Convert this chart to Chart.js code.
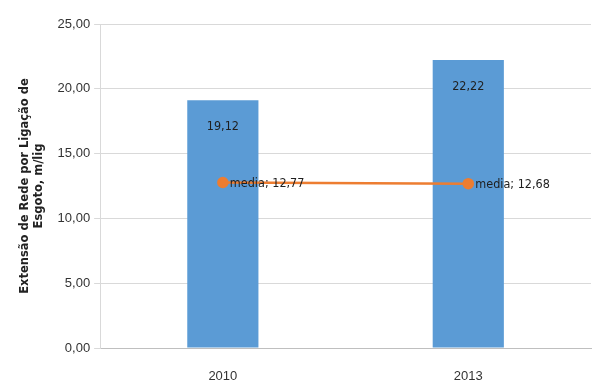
<!DOCTYPE html>
<html>
<head>
<meta charset="utf-8">
<script src="https://cdn.jsdelivr.net/npm/chart.js@4"></script>
<style>
  html, body { margin: 0; padding: 0; background: #fff; }
  #wrap { width: 605px; height: 385px; }
</style>
</head>
<body>
<div id="wrap"><canvas id="chart"></canvas></div>
<script>
const years = ["2010", "2013"];
const extensao = [19.12, 22.22];
const media = [12.77, 12.68];
const yTicks = [0, 5, 10, 15, 20, 25];

const fmt = v => v.toFixed(2).replace(".", ",");
const labelFont = "12.5px 'Liberation Sans Narrow', 'DejaVu Sans Condensed', sans-serif";

// value labels like the original spreadsheet chart
const valueLabels = {
  id: "valueLabels",
  afterDatasetsDraw(chart) {
    const ctx = chart.ctx;
    ctx.save();
    ctx.font = labelFont;
    ctx.fillStyle = "#1f1f1f";
    ctx.textBaseline = "middle";

    chart.data.datasets.forEach((ds, di) => {
      const meta = chart.getDatasetMeta(di);
      meta.data.forEach((el, i) => {
        if (ds.type === "bar") {
          ctx.textAlign = "center";
          ctx.fillText(fmt(extensao[i]), el.x, el.y + 27);
        } else {
          ctx.textAlign = "left";
          ctx.fillText("media; " + fmt(media[i]), el.x + 7, el.y + 1);
        }
      });
    });
    ctx.restore();
  }
};

new Chart(document.getElementById("chart"), {
  data: {
    labels: years,
    datasets: [
      {
        type: "line",
        label: "media",
        data: media,
        borderColor: "#ED7D31",
        backgroundColor: "#ED7D31",
        borderWidth: 2.5,
        pointStyle: "circle",
        pointRadius: 4.5,
        pointHoverRadius: 4.5,
        order: 0
      },
      {
        type: "bar",
        label: "Extensão",
        data: extensao,
        backgroundColor: "#5B9BD5",
        barPercentage: 0.58,
        categoryPercentage: 0.5,
        order: 1
      }
    ]
  },
  options: {
    responsive: true,
    maintainAspectRatio: false,
    animation: false,
    layout: { padding: { top: 24, right: 14, left: 18, bottom: 0 } },
    plugins: {
      legend: { display: false },
      tooltip: { enabled: false }
    },
    scales: {
      x: {
        grid: { display: false },
        border: { color: "#bfbfbf" },
        afterFit: axis => { axis.height = 37; },
        ticks: {
          color: "#333",
          font: { family: "'Liberation Sans Narrow', sans-serif", size: 13 },
          padding: 13
        }
      },
      y: {
        min: 0,
        max: 25,
        afterBuildTicks: axis => {
          axis.ticks = yTicks.map(v => ({ value: v }));
        },
        grid: { color: "#d9d9d9", tickLength: 6 },
        border: { color: "#d9d9d9" },
        ticks: {
          color: "#333",
          font: { family: "'Liberation Sans Narrow', sans-serif", size: 13 },
          padding: 4,
          callback: v => fmt(v)
        },
        title: {
          display: true,
          text: ["Extensão de Rede por Ligação de", "Esgoto, m/lig"],
          color: "#222",
          font: { family: "'DejaVu Sans', sans-serif", size: 11.5, weight: "bold" },
          padding: { top: 0, bottom: 8 }
        }
      }
    }
  },
  plugins: [valueLabels]
});
</script>
</body>
</html>
